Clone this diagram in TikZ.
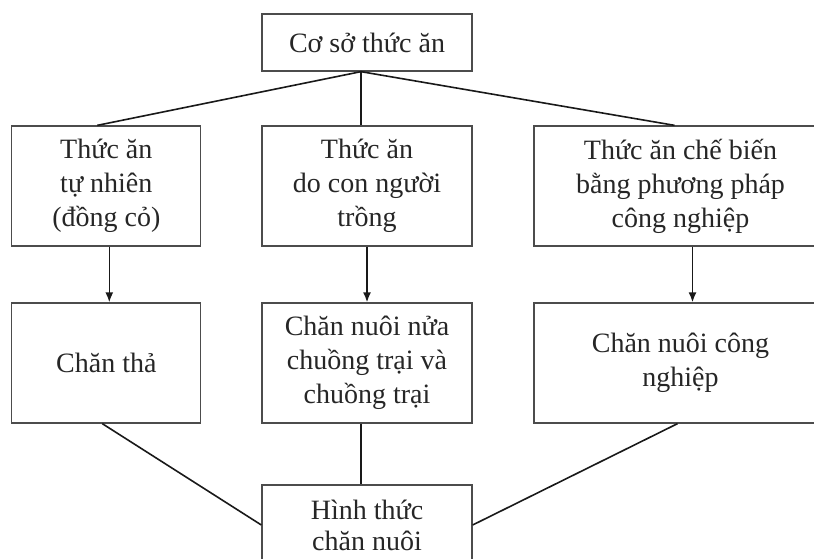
\documentclass[tikz,border=0pt]{standalone}
\usepackage{fontspec}
\setmainfont{Liberation Serif}
\usetikzlibrary{arrows.meta}

\begin{document}
\begin{tikzpicture}[x=1pt,y=-1pt]
        \tikzstyle{unit}=[draw=black!70,line width=1.3pt,shape=rectangle,align=center,text=black!85,font=\fontsize{28}{34}\selectfont]
        \tikzstyle{link}=[draw=black!90,line width=1.6pt]
        \tikzstyle{arr}=[link,-{Latex[length=10pt,width=8pt]}]

        \useasboundingbox (0,0) rectangle (814,559);
        \clip (0,0) rectangle (814,559);

        \node[unit,minimum width=210pt,minimum height=57pt](base) at (367,42.5){Cơ sở thức ăn};

        \node[unit,minimum width=189pt,minimum height=120pt](natural) at (106.3,186){Thức ăn\\tự nhiên\\(đồng cỏ)};
        \node[unit,minimum width=210pt,minimum height=120pt](grown) at (367,186){Thức ăn\\do con người\\trồng};
        \node[unit,minimum width=293pt,minimum height=120pt](industrial) at (680.5,186){Thức ăn chế biến\\bằng phương pháp\\công nghiệp};

        \node[unit,minimum width=189pt,minimum height=120pt](graze) at (106.3,363){Chăn thả};
        \node[unit,minimum width=210pt,minimum height=120pt](semi) at (367,363){Chăn nuôi nửa\\chuồng trại và\\chuồng trại};
        \node[unit,minimum width=293pt,minimum height=120pt](factory) at (680.5,363){Chăn nuôi công\\nghiệp};

        \node[unit,minimum width=210pt,minimum height=80pt,font=\fontsize{28}{31}\selectfont](forms) at (367,525){Hình thức\\chăn nuôi};

        \coordinate (hub) at ([xshift=-6pt]base.south);

        \draw[link] (hub) -- ([xshift=-9pt]natural.north);
        \draw[link] (hub) -- ([xshift=-6pt]grown.north);
        \draw[link] (hub) -- ([xshift=-6pt]industrial.north);

        \draw[arr] ([xshift=3pt]natural.south) -- ([xshift=3pt]graze.north);
        \draw[arr] (grown.south) -- (semi.north);
        \draw[arr] ([xshift=12pt]industrial.south) -- ([xshift=12pt]factory.north);

        \draw[link] ([xshift=-4pt]graze.south) -- (forms.west);
        \draw[link] ([xshift=-6pt]semi.south) -- ([xshift=-6pt]forms.north);
        \draw[link] ([xshift=-3pt]factory.south) -- (forms.east);

    \end{tikzpicture}
\end{document}
